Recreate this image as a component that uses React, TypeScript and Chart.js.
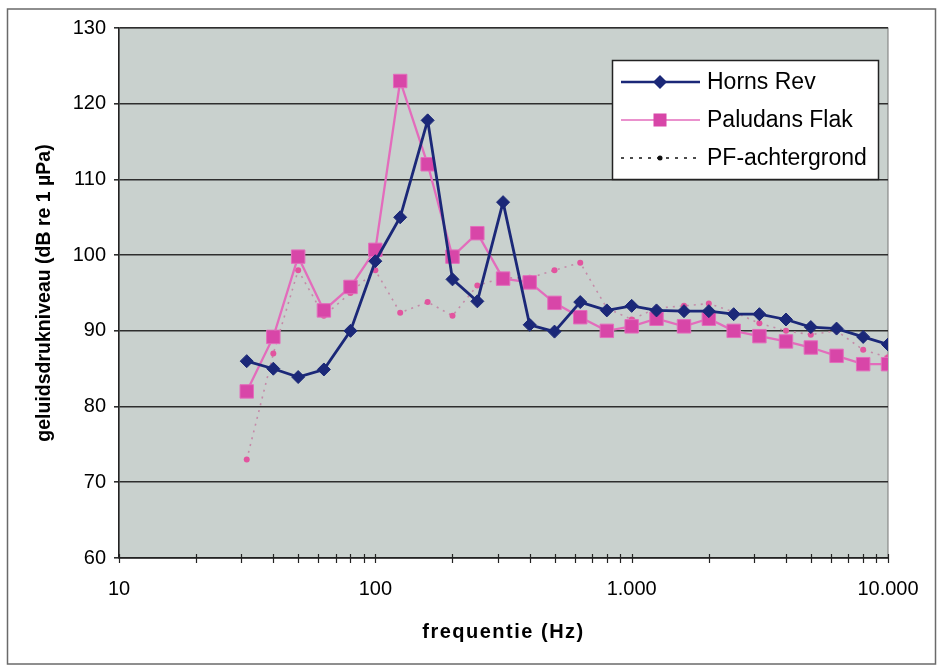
import React, { useEffect, useRef } from 'react';
import { Chart, registerables } from 'chart.js';

Chart.register(...registerables);

// ---- data ----
const frequencies = [31.5, 40, 50, 63, 80, 100, 125, 160, 200, 250, 315, 400, 500, 630, 800, 1000, 1250, 1600, 2000, 2500, 3150, 4000, 5000, 6300, 8000, 10000];
const hornsRev = [86, 85, 83.9, 84.9, 90, 99.2, 105, 117.8, 96.8, 93.9, 107, 90.8, 89.9, 93.8, 92.7, 93.3, 92.7, 92.6, 92.6, 92.2, 92.2, 91.5, 90.5, 90.3, 89.2, 88.2];
const paludansFlak = [82, 89.2, 99.8, 92.7, 95.8, 100.7, 123, 112, 99.8, 102.9, 96.9, 96.4, 93.7, 91.8, 90, 90.6, 91.6, 90.6, 91.6, 90, 89.3, 88.6, 87.8, 86.7, 85.6, 85.6];
const pfAchtergrond = [73, 87, 98, 92, 95, 98, 92.4, 93.8, 92, 96, 97, 97, 98, 99, 93, 91.5, 93, 93.3, 93.6, 92.5, 91, 90, 89.5, 90, 87.5, 86.5];
const seriesNames = ['Horns Rev', 'Paludans Flak', 'PF-achtergrond'];
const xTickValues = [10, 100, 1000, 10000];
const xTickLabels = ['10', '100', '1.000', '10.000'];
const xMinorTicks = [10, 20, 30, 40, 50, 60, 70, 80, 90, 100, 200, 300, 400, 500, 600, 700, 800, 900, 1000, 2000, 3000, 4000, 5000, 6000, 7000, 8000, 9000, 10000];
const yMin = 60;
const yMax = 130;
const yStep = 10;
const xTitle = 'frequentie (Hz)';
const yTitle = 'geluidsdrukniveau (dB re 1 µPa)';

const FONT = "'Liberation Sans', Arial, sans-serif";
const NAVY = '#1b2878';
const PINK_LINE = '#e36cbc';
const PINK_FILL = '#d846a8';
const PF_DOT = '#e2549f';
const PLOT_BG = '#c9d1ce';

const toPoints = (ys: number[]) => frequencies.map((f, i) => ({ x: f, y: ys[i] }));

const decorPlugin = {
  id: 'decor',
  beforeDraw(chart: any) {
    const { ctx, chartArea: a } = chart;
    ctx.save();
    ctx.fillStyle = '#ffffff';
    ctx.fillRect(0, 0, chart.width, chart.height);
    ctx.strokeStyle = '#6a6a6a';
    ctx.lineWidth = 1.5;
    ctx.strokeRect(7.5, 9, 928, 655);
    ctx.fillStyle = PLOT_BG;
    ctx.fillRect(a.left, a.top, a.right - a.left, a.bottom - a.top);
    ctx.strokeStyle = '#777';
    ctx.lineWidth = 1;
    ctx.strokeRect(a.left, a.top, a.right - a.left, a.bottom - a.top);
    ctx.restore();
  },
  afterDraw(chart: any) {
    const { ctx, chartArea: a } = chart;
    const xs = chart.scales.x;
    ctx.save();
    ctx.strokeStyle = '#222';
    ctx.lineWidth = 1.2;
    xMinorTicks.forEach((v) => {
      const px = Math.round(xs.getPixelForValue(v)) + 0.5;
      ctx.beginPath();
      ctx.moveTo(px, a.bottom - 4);
      ctx.lineTo(px, a.bottom + 5);
      ctx.stroke();
    });
    ctx.fillStyle = '#000';
    ctx.font = `bold 20px ${FONT}`;
    (ctx as any).letterSpacing = '1.5px';
    ctx.textAlign = 'center';
    ctx.textBaseline = 'middle';
    ctx.fillText(xTitle, (a.left + a.right) / 2, 632);
    (ctx as any).letterSpacing = '0px';
    ctx.save();
    ctx.translate(45, (a.top + a.bottom) / 2);
    ctx.rotate(-Math.PI / 2);
    ctx.font = `bold 19.5px ${FONT}`;
    ctx.fillText(yTitle, 0, 0);
    ctx.restore();

    const bx = 612.5, by = 60.5, bw = 266, bh = 119;
    ctx.fillStyle = '#fff';
    ctx.fillRect(bx, by, bw, bh);
    ctx.strokeStyle = '#222';
    ctx.lineWidth = 1.5;
    ctx.strokeRect(bx, by, bw, bh);
    const rows = [82, 120, 158];
    const lx0 = 621, lx1 = 700, mx = 660, tx = 707;
    ctx.strokeStyle = NAVY;
    ctx.lineWidth = 2.5;
    ctx.beginPath(); ctx.moveTo(lx0, rows[0]); ctx.lineTo(lx1, rows[0]); ctx.stroke();
    ctx.fillStyle = NAVY;
    ctx.beginPath();
    ctx.moveTo(mx - 7, rows[0]); ctx.lineTo(mx, rows[0] - 7); ctx.lineTo(mx + 7, rows[0]); ctx.lineTo(mx, rows[0] + 7);
    ctx.closePath(); ctx.fill();
    ctx.strokeStyle = PINK_LINE;
    ctx.lineWidth = 1.5;
    ctx.beginPath(); ctx.moveTo(lx0, rows[1]); ctx.lineTo(lx1, rows[1]); ctx.stroke();
    ctx.fillStyle = PINK_FILL;
    ctx.fillRect(mx - 6.5, rows[1] - 6.5, 13, 13);
    ctx.strokeStyle = '#111';
    ctx.lineWidth = 1.5;
    ctx.setLineDash([3, 6]);
    ctx.beginPath(); ctx.moveTo(lx0, rows[2]); ctx.lineTo(lx1, rows[2]); ctx.stroke();
    ctx.setLineDash([]);
    ctx.fillStyle = '#111';
    ctx.beginPath(); ctx.arc(mx, rows[2], 2.5, 0, Math.PI * 2); ctx.fill();
    ctx.fillStyle = '#000';
    ctx.font = `23px ${FONT}`;
    ctx.textAlign = 'left';
    ctx.textBaseline = 'middle';
    seriesNames.forEach((n, i) => ctx.fillText(n, tx, rows[i] + 1));
    ctx.restore();
  },
};

export default function App() {
  const ref = useRef<HTMLCanvasElement | null>(null);
  useEffect(() => {
    if (!ref.current) return;
    const chart = new Chart(ref.current, {
      type: 'line',
      data: {
        datasets: [
          {
            label: seriesNames[0],
            data: toPoints(hornsRev),
            borderColor: NAVY,
            borderWidth: 2.8,
            pointStyle: 'rectRot',
            pointRadius: 6.5,
            pointBackgroundColor: NAVY,
            pointBorderColor: NAVY,
            pointBorderWidth: 1,
            tension: 0,
          },
          {
            label: seriesNames[1],
            data: toPoints(paludansFlak),
            borderColor: PINK_LINE,
            borderWidth: 2.3,
            pointStyle: 'rect',
            pointRadius: 9.5,
            pointBackgroundColor: PINK_FILL,
            pointBorderColor: PINK_LINE,
            pointBorderWidth: 1,
            tension: 0,
          },
          {
            label: seriesNames[2],
            data: toPoints(pfAchtergrond),
            borderColor: '#c48aa8',
            borderWidth: 1.6,
            borderDash: [2, 5],
            pointStyle: 'circle',
            pointRadius: 3,
            pointBackgroundColor: PF_DOT,
            pointBorderWidth: 0,
            tension: 0,
          },
        ],
      },
      options: {
        responsive: false,
        animation: false,
        events: [],
        layout: { padding: { left: 0, right: 60, top: 28, bottom: 0 } },
        plugins: { legend: { display: false }, tooltip: { enabled: false } },
        scales: {
          x: {
            type: 'logarithmic',
            min: 10,
            max: 10000,
            afterBuildTicks: (s: any) => {
              s.ticks = xMinorTicks.map((v) => ({ value: v }));
            },
            afterFit: (s: any) => {
              s.height = 110;
            },
            ticks: {
              autoSkip: false,
              maxRotation: 0,
              padding: 19,
              color: '#000',
              font: { family: FONT, size: 20 },
              callback: (v: any) => {
                const i = xTickValues.indexOf(Number(v));
                return i >= 0 ? xTickLabels[i] : '';
              },
            },
            grid: { drawOnChartArea: false, drawTicks: false },
            border: { color: '#222', width: 1.5 },
          },
          y: {
            min: yMin,
            max: yMax,
            afterFit: (s: any) => {
              s.width = 119;
            },
            ticks: {
              stepSize: yStep,
              padding: 8,
              color: '#000',
              font: { family: FONT, size: 20 },
            },
            grid: { color: '#2e2e2e', lineWidth: 1.6, tickLength: 5, drawTicks: true },
            border: { color: '#222', width: 1.5 },
          },
        },
      },
      plugins: [decorPlugin],
    } as any);
    return () => chart.destroy();
  }, []);
  return (
    <div style={{ position: 'absolute', left: 0, top: 0, width: 948, height: 668, background: '#fff' }}>
      <canvas ref={ref} width={948} height={668} style={{ display: 'block', width: 948, height: 668 }} />
    </div>
  );
}
